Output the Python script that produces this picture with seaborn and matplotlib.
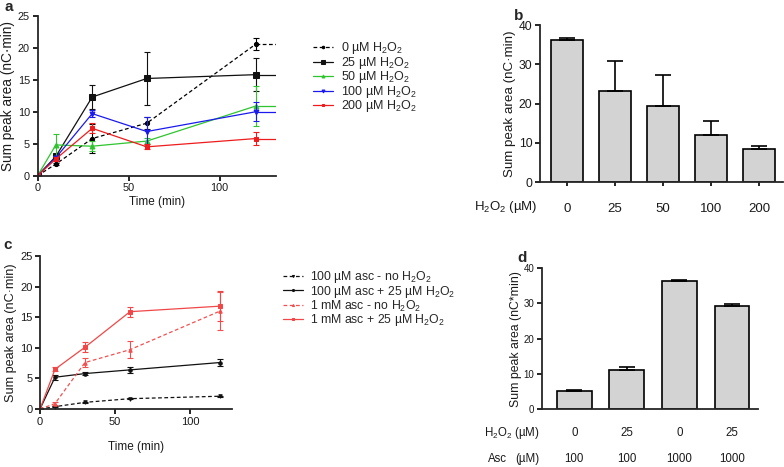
import numpy as np
import pandas as pd
import seaborn as sns
import matplotlib.pyplot as plt
import matplotlib.transforms as mtransforms

sns.set_style("ticks")
plt.rcParams['font.family'] = ['Liberation Sans', 'DejaVu Sans']
plt.rcParams['mathtext.fontset'] = 'custom'
plt.rcParams['mathtext.rm'] = 'Liberation Sans'
plt.rcParams['mathtext.it'] = 'Liberation Sans'
plt.rcParams['axes.linewidth'] = 1.3

# ---- data ----
times = [0, 10, 30, 60, 120]

# panel a: H2O2 series
a_labels = ["0 µM H$_2$O$_2$", "25 µM H$_2$O$_2$", "50 µM H$_2$O$_2$",
            "100 µM H$_2$O$_2$", "200 µM H$_2$O$_2$"]
a_0 = [0, 1.8, 5.8, 8.2, 20.6]
a_0_err = [0, 0.2, 2.3, 0.9, 0.9]
a_25 = [0, 3.0, 12.3, 15.2, 15.8]
a_25_err = [0, 0.3, 1.9, 4.1, 2.6]
a_50 = [0, 4.8, 4.6, 5.4, 10.9]
a_50_err = [0, 1.7, 0.8, 0.5, 3.1]
a_100 = [0, 2.8, 9.7, 6.9, 10.0]
a_100_err = [0, 0.3, 0.6, 2.2, 1.5]
a_200 = [0, 2.6, 7.4, 4.5, 5.8]
a_200_err = [0, 0.3, 0.8, 0.4, 1.0]

# panel b
b_conc = ["0", "25", "50", "100", "200"]
b_vals = [36.3, 23.2, 19.3, 11.9, 8.4]
b_err = [0.4, 7.6, 7.9, 3.6, 0.8]

# panel c: ascorbate series
c_labels = ["100 µM asc - no H$_2$O$_2$", "100 µM asc + 25 µM H$_2$O$_2$",
            "1 mM asc - no H$_2$O$_2$", "1 mM asc + 25 µM H$_2$O$_2$"]
c_100_no = [0, 0.4, 1.1, 1.7, 2.1]
c_100_no_err = [0, 0.1, 0.1, 0.1, 0.1]
c_100_25 = [0, 5.2, 5.8, 6.4, 7.6]
c_100_25_err = [0, 0.4, 0.2, 0.5, 0.5]
c_1m_no = [0, 0.9, 7.6, 9.7, 16.0]
c_1m_no_err = [0, 0.2, 0.7, 1.4, 3.1]
c_1m_25 = [0, 6.5, 10.1, 15.9, 16.8]
c_1m_25_err = [0, 0.3, 0.8, 0.8, 2.5]

# panel d
d_h2o2 = ["0", "25", "0", "25"]
d_asc = ["100", "100", "1000", "1000"]
d_vals = [5.2, 11.2, 36.3, 29.3]
d_err = [0.3, 0.6, 0.3, 0.5]

fig = plt.figure(figsize=(7.84, 4.67), dpi=100)
ax_a = fig.add_axes([0.048, 0.624, 0.304, 0.342])
ax_b = fig.add_axes([0.689, 0.610, 0.310, 0.336])
ax_c = fig.add_axes([0.051, 0.124, 0.245, 0.328])
ax_d = fig.add_axes([0.691, 0.124, 0.276, 0.302])

txt = '#1a1a1a'


def style_axes(ax, fs=7.5):
    sns.despine(ax=ax)
    ax.tick_params(axis='both', labelsize=fs, width=1.2, length=3.5, color='black',
                   labelcolor=txt, pad=2)


def series_plot(ax, y, err, color, marker, ms, ls, label, extend=None):
    sns.lineplot(x=times, y=y, ax=ax, color=color, marker=marker, markersize=ms,
                 markeredgecolor=color, linestyle=ls, linewidth=0.9, label=label)
    ax.errorbar(times, y, yerr=err, fmt='none', ecolor=color, elinewidth=0.8,
                capsize=2, capthick=0.8)
    if extend is not None:
        # GraphPad-style flat continuation to the end of the axis
        ax.plot([times[-1], extend], [y[-1], y[-1]], color=color, linestyle=ls, linewidth=0.9)


# ---- panel a ----
a_xmax = 131
series_plot(ax_a, a_0, a_0_err, 'black', 'o', 3, (0, (3, 2)), a_labels[0], a_xmax)
series_plot(ax_a, a_25, a_25_err, '#111111', 's', 4, '-', a_labels[1], a_xmax)
series_plot(ax_a, a_50, a_50_err, '#2ec52e', '^', 3.5, '-', a_labels[2], a_xmax)
series_plot(ax_a, a_100, a_100_err, '#1a1aee', 'v', 3.5, '-', a_labels[3], a_xmax)
series_plot(ax_a, a_200, a_200_err, '#ee1c1c', 's', 3.5, '-', a_labels[4], a_xmax)
ax_a.set_xlim(0, a_xmax)
ax_a.set_ylim(0, 25)
ax_a.set_xticks([0, 50, 100])
ax_a.set_yticks([0, 5, 10, 15, 20, 25])
ax_a.set_xlabel("Time (min)", fontsize=8.5, labelpad=2, color=txt)
ax_a.set_ylabel("Sum peak area (nC·min)", fontsize=9.8, labelpad=2, color=txt)
style_axes(ax_a, 7.8)
ax_a.legend(loc='upper left', bbox_to_anchor=(1.13, 0.885), frameon=False, fontsize=9,
            handlelength=1.6, handletextpad=0.6, labelspacing=-0.12, borderpad=0,
            markerscale=0.6)

# ---- panel b ----
sns.barplot(x=b_conc, y=b_vals, ax=ax_b, color='#d3d3d3', edgecolor='black',
            linewidth=1.2, width=0.67, saturation=1)
ax_b.errorbar(range(len(b_vals)), b_vals, yerr=[np.zeros(len(b_err)), b_err], fmt='none',
              ecolor='black', elinewidth=1.2, capsize=6, capthick=1.2)
ax_b.set_xlim(-0.56, 4.5)
ax_b.set_ylim(0, 40)
ax_b.set_yticks([0, 10, 20, 30, 40])
ax_b.set_ylabel("Sum peak area (nC·min)", fontsize=9.6, labelpad=2, color=txt)
style_axes(ax_b, 8.7)
ax_b.tick_params(axis='x', labelsize=9.5, pad=12, length=3)
ax_b.text(-0.012, -0.16, "H$_2$O$_2$ (µM)", transform=ax_b.transAxes, ha='right',
          va='center', fontsize=9.5, color=txt)

# ---- panel c ----
series_plot(ax_c, c_100_no, c_100_no_err, '#111111', 'v', 2.5, (0, (3, 2)), c_labels[0])
series_plot(ax_c, c_100_25, c_100_25_err, '#111111', 'o', 2.5, '-', c_labels[1])
series_plot(ax_c, c_1m_no, c_1m_no_err, '#f25050', '^', 2.5, (0, (3, 2)), c_labels[2])
series_plot(ax_c, c_1m_25, c_1m_25_err, '#f04848', 's', 3.5, '-', c_labels[3])
ax_c.set_xlim(0, 128)
ax_c.set_ylim(0, 25)
ax_c.set_xticks([0, 50, 100])
ax_c.set_yticks([0, 5, 10, 15, 20, 25])
ax_c.set_xlabel("Time (min)", fontsize=8.5, labelpad=10, color=txt)
ax_c.set_ylabel("Sum peak area (nC·min)", fontsize=9.1, labelpad=2, color=txt)
style_axes(ax_c, 8)
ax_c.legend(loc='upper left', bbox_to_anchor=(1.234, 0.955), frameon=False, fontsize=8.8,
            handlelength=1.6, handletextpad=0.6, labelspacing=-0.1, borderpad=0,
            markerscale=0.6)

# ---- panel d ----
d_pos = list(range(len(d_vals)))
sns.barplot(x=d_pos, y=d_vals, ax=ax_d, color='#d3d3d3', edgecolor='black',
            linewidth=1.2, width=0.66, saturation=1)
ax_d.errorbar(d_pos, d_vals, yerr=[np.zeros(len(d_err)), d_err], fmt='none',
              ecolor='black', elinewidth=1.2, capsize=6, capthick=1.2)
ax_d.set_xlim(-0.62, 3.5)
ax_d.set_ylim(0, 40)
ax_d.set_yticks([0, 10, 20, 30, 40])
ax_d.set_xticklabels([])
ax_d.set_ylabel("Sum peak area (nC*min)", fontsize=8.8, labelpad=1, color=txt)
style_axes(ax_d, 7)
ax_d.tick_params(axis='x', length=0)
trans_d = mtransforms.blended_transform_factory(ax_d.transData, ax_d.transAxes)
for i in d_pos:
    ax_d.text(i, -0.17, d_h2o2[i], transform=trans_d, ha='center', va='center',
              fontsize=8.3, color=txt)
    ax_d.text(i, -0.355, d_asc[i], transform=trans_d, ha='center', va='center',
              fontsize=8.3, color=txt)
ax_d.text(-0.01, -0.17, "H$_2$O$_2$ (µM)", transform=ax_d.transAxes, ha='right',
          va='center', fontsize=8.3, color=txt)
ax_d.text(-0.25, -0.355, "Asc", transform=ax_d.transAxes, ha='left',
          va='center', fontsize=8.3, color=txt)
ax_d.text(-0.01, -0.355, "(µM)", transform=ax_d.transAxes, ha='right',
          va='center', fontsize=8.3, color=txt)

# panel letters
for x, y, s in [(0.006, 0.985, 'a'), (0.655, 0.965, 'b'), (0.004, 0.475, 'c'), (0.66, 0.447, 'd')]:
    fig.text(x, y, s, fontsize=11, fontweight='bold', ha='left', va='center')

fig.savefig("out.png", dpi=100)
